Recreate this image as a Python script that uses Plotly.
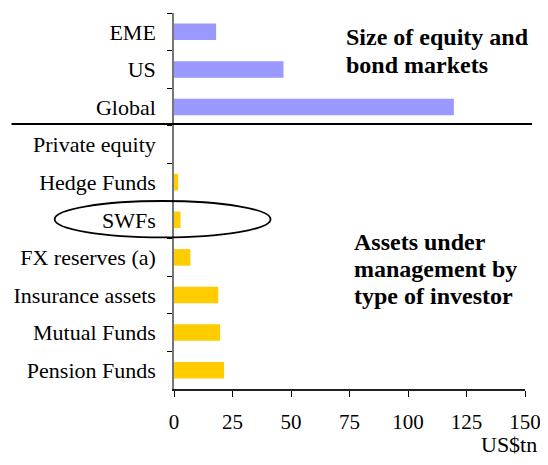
import plotly.graph_objects as go

# categories listed top to bottom
market_cats = ["EME", "US", "Global"]
market_vals = [18.0, 46.8, 119.6]

investor_cats = ["Private equity", "Hedge Funds", "SWFs", "FX reserves (a)",
                 "Insurance assets", "Mutual Funds", "Pension Funds"]
investor_vals = [0.0, 1.8, 2.8, 7.0, 18.9, 19.7, 21.4]

x_ticks = [0, 25, 50, 75, 100, 125, 150]

serif = "Liberation Serif, Times New Roman, serif"

fig = go.Figure()
fig.add_trace(go.Bar(y=market_cats, x=market_vals, orientation="h",
                     marker_color="#9999FF", marker_line_width=0, width=0.44))
fig.add_trace(go.Bar(y=investor_cats, x=investor_vals, orientation="h",
                     marker_color="#FFCC00", marker_line_width=0, width=0.44))


def label(text, x, y, size=24, bold=True):
    return dict(text=f"<b>{text}</b>" if bold else text,
                xref="paper", yref="paper", x=x, y=y,
                xanchor="left", yanchor="middle", showarrow=False,
                font=dict(family=serif, size=size))


us_tn = label("US$tn", 1.041, -0.147, size=22, bold=False)
us_tn["xanchor"] = "right"

# the page body keeps an 8px margin all round, so the figure is 16px smaller
# than the window to avoid scrollbars
fig.update_layout(
    width=532, height=449,
    barmode="overlay",
    showlegend=False,
    plot_bgcolor="white",
    paper_bgcolor="white",
    font=dict(family=serif, size=22, color="black"),
    margin=dict(l=166, r=15, t=5, b=68, autoexpand=False),
    xaxis=dict(range=[0, 150], tickvals=x_ticks, showgrid=False, zeroline=False,
               showline=True, linecolor="#222", linewidth=1.5,
               ticks="outside", ticklen=6, tickcolor="black",
               tickfont=dict(size=21), ticklabelstandoff=7,
               ticklabeloverflow="allow"),
    yaxis=dict(categoryorder="array", categoryarray=market_cats + investor_cats,
               autorange="reversed", showgrid=False, zeroline=False,
               showline=True, linecolor="#777", linewidth=1.5,
               ticks="outside", ticklen=5, tickcolor="black",
               tickson="boundaries", ticklabelstandoff=12),
    shapes=[
        # separator between the two groups
        dict(type="line", xref="paper", yref="y", x0=-0.463, x1=1.02,
             y0=2.45, y1=2.45, line=dict(color="black", width=2)),
        # ellipse round SWFs
        dict(type="circle", xref="paper", yref="y", x0=-0.34, x1=0.275,
             y0=4.5, y1=5.47, line=dict(color="black", width=1.8)),
    ],
    annotations=[
        label("Size of equity and", 0.485, 0.936),
        label("bond markets", 0.485, 0.861),
        label("Assets under", 0.5085, 0.391),
        label("management by", 0.5085, 0.318),
        label("type of investor", 0.5085, 0.248),
        us_tn,
    ],
)

fig.write_html("out.html")
